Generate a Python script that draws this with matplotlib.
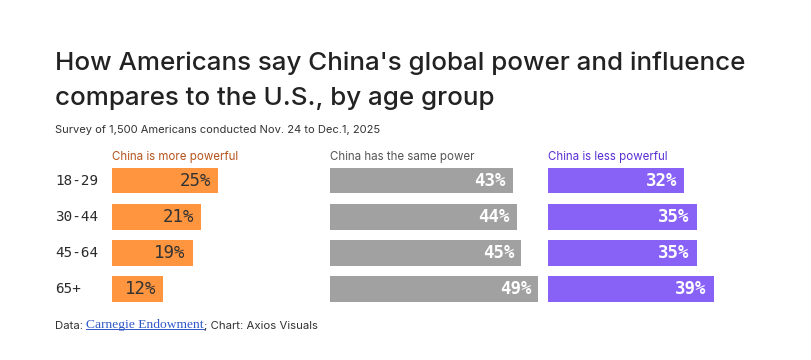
import numpy as np
import matplotlib
matplotlib.use("Agg")
import matplotlib.pyplot as plt
from matplotlib.transforms import blended_transform_factory
from matplotlib.lines import Line2D

# DATA
ages = ["18-29", "30-44", "45-64", "65+"]
more_powerful = [25, 21, 19, 12]
same_power = [43, 44, 45, 49]
less_powerful = [32, 35, 35, 39]
headers = ["China is more powerful", "China has the same power", "China is less powerful"]

W, H = 812, 360
SANS = "Inter"
MONO = "DejaVu Sans Mono"

colors = ["#FF953F", "#A0A1A0", "#8862F7"]
header_colors = ["#B4531C", "#555555", "#5A2FD3"]
label_colors = ["#333333", "white", "white"]
label_weights = ["normal", "bold", "bold"]


def fx(px):
    return px / W


def fy(py):
    return 1 - py / H


def main():
    fig = plt.figure(figsize=(W / 100, H / 100), dpi=100)
    fig.patch.set_facecolor("white")

    # full figure helper axes for text placement
    bg = fig.add_axes([0, 0, 1, 1])
    bg.set_xlim(0, W)
    bg.set_ylim(H, 0)
    bg.set_axis_off()

    # title, subtitle
    bg.text(55, 63, "How Americans say China's global power and influence",
            fontsize=18.7, family=SANS, fontweight=500, color="#222222",
            va="center", ha="left")
    bg.text(55, 99, "compares to the U.S., by age group",
            fontsize=18.7, family=SANS, fontweight=500, color="#222222",
            va="center", ha="left")
    bg.text(55, 130, "Survey of 1,500 Americans conducted Nov. 24 to Dec.1, 2025",
            fontsize=8.0, family=SANS, color="#333333", va="center", ha="left")

    scale = 4.25  # px per percentage point
    xmax = 51
    ax_w = xmax * scale
    top, bottom = 162.6, 307
    lefts = [112, 330, 548]
    series = [more_powerful, same_power, less_powerful]
    y = np.arange(len(ages))

    axes = []
    for i, (left, vals) in enumerate(zip(lefts, series)):
        ax = fig.add_axes([fx(left), fy(bottom), ax_w / W, (bottom - top) / H])
        ax.barh(y, vals, height=0.71, color=colors[i], left=0)
        ax.set_xlim(0, xmax)
        ax.set_ylim(len(ages) - 0.5, -0.5)
        ax.set_axis_off()
        for yy, v in zip(y, vals):
            ax.annotate(f"{v}%", xy=(v, yy), xytext=(-7, 0), textcoords="offset pixels",
                        ha="right", va="center", fontsize=12.5, family=MONO,
                        fontweight=label_weights[i], color=label_colors[i])
        bg.text(left, 157, headers[i], fontsize=8.3, family=SANS,
                color=header_colors[i], va="center", ha="left")
        axes.append(ax)

    # row labels
    tr = blended_transform_factory(fig.transFigure, axes[0].transData)
    for yy, lab in zip(y, ages):
        fig.text(fx(55), yy, lab, transform=tr, fontsize=10.3, family=MONO,
                 color="#2a2a2a", va="center", ha="left")

    # footer
    t1 = bg.text(55, 329, "Data: ", fontsize=8.2, family=SANS,
                 color="#333333", va="baseline", ha="left")
    t2 = bg.annotate("Carnegie Endowment", xy=(1, 0), xycoords=t1,
                     fontsize=9.7, family="Liberation Serif", color="#2F57C8",
                     va="bottom", ha="left")
    t3 = bg.annotate("; Chart: Axios Visuals", xy=(1, 0), xycoords=t2,
                     fontsize=8.2, family=SANS, color="#333333",
                     va="bottom", ha="left")
    fig.canvas.draw()
    bb = t2.get_window_extent()
    uy = bb.y0 + 2.5
    fig.add_artist(Line2D([bb.x0 / W, bb.x1 / W], [uy / H, uy / H],
                          transform=fig.transFigure, color="#2F57C8", lw=0.7))

    plt.savefig("out.png", dpi=100)
    plt.close()


if __name__ == "__main__":
    main()
